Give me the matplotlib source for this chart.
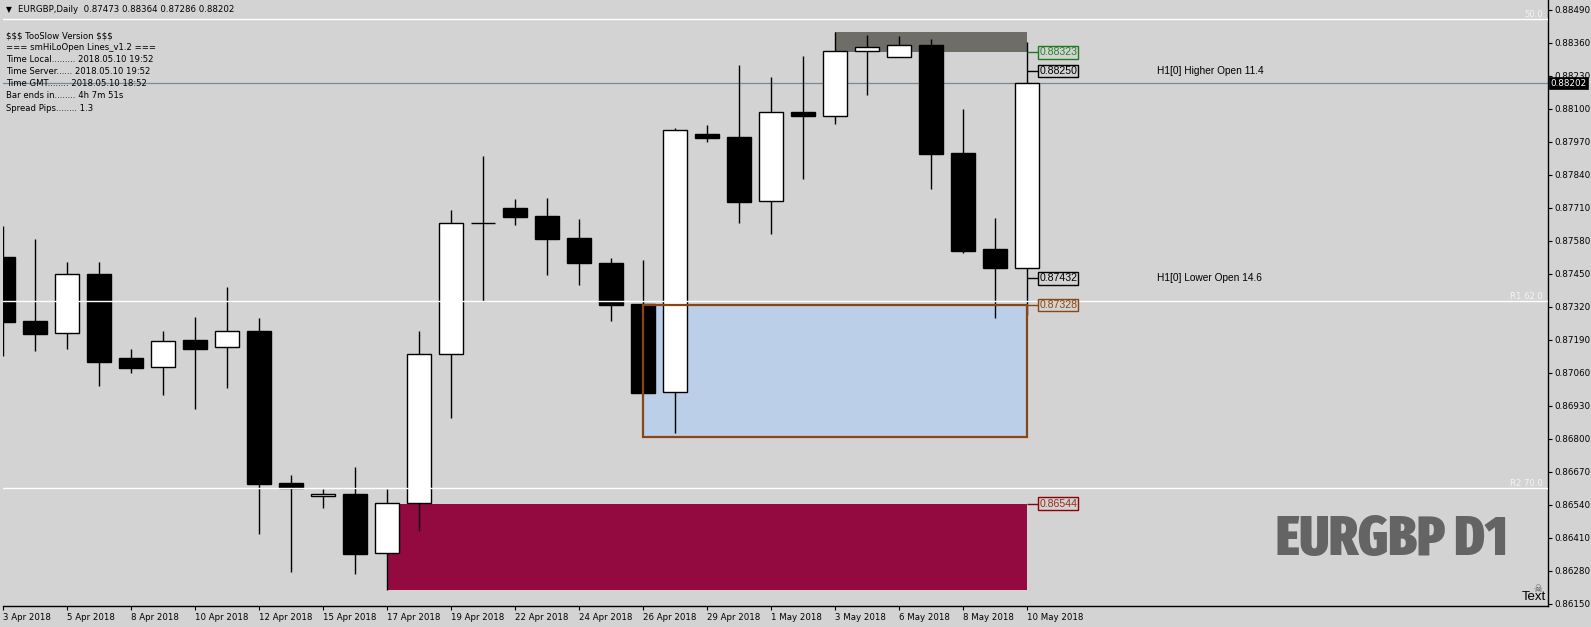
import matplotlib
matplotlib.use('Agg')
import matplotlib.pyplot as plt
from matplotlib.patches import Rectangle
from matplotlib import font_manager as fm

# ---------------- data ----------------
dates = ['3 Apr', '4 Apr', '5 Apr', '6 Apr', '8 Apr', '9 Apr', '10 Apr', '11 Apr', '12 Apr', '13 Apr',
         '15 Apr', '16 Apr', '17 Apr', '18 Apr', '19 Apr', '20 Apr', '22 Apr', '23 Apr', '24 Apr', '25 Apr',
         '26 Apr', '27 Apr', '29 Apr', '30 Apr', '1 May', '2 May', '3 May', '4 May', '6 May', '7 May',
         '8 May', '9 May', '10 May']
opens = [0.87516, 0.87264, 0.87216, 0.87449, 0.87118, 0.87082, 0.87189, 0.87160, 0.87225, 0.86626,
         0.86573, 0.86582, 0.86348, 0.86546, 0.87133, 0.87650, 0.87710, 0.87678, 0.87591, 0.87493,
         0.87331, 0.86983, 0.88001, 0.87988, 0.87736, 0.88087, 0.88071, 0.88327, 0.88304, 0.88351,
         0.87926, 0.87548, 0.87473]
highs = [0.87639, 0.87587, 0.87497, 0.87497, 0.87154, 0.87225, 0.87280, 0.87398, 0.87276, 0.86657,
         0.86602, 0.86689, 0.86602, 0.87225, 0.87702, 0.87915, 0.87745, 0.87749, 0.87666, 0.87512,
         0.87505, 0.88024, 0.88037, 0.88273, 0.88226, 0.88309, 0.88404, 0.88391, 0.88388, 0.88376,
         0.88100, 0.87671, 0.88364]
lows = [0.87127, 0.87147, 0.87155, 0.87009, 0.87059, 0.86974, 0.86917, 0.87001, 0.86426, 0.86276,
        0.86528, 0.86268, 0.86205, 0.86438, 0.86883, 0.87343, 0.87644, 0.87447, 0.87407, 0.87265,
        0.86980, 0.86821, 0.87971, 0.87652, 0.87608, 0.87825, 0.88040, 0.88156, 0.88304, 0.87786,
        0.87533, 0.87275, 0.87286]
closes = [0.87261, 0.87214, 0.87448, 0.87104, 0.87080, 0.87184, 0.87155, 0.87224, 0.86623, 0.86607,
          0.86581, 0.86347, 0.86546, 0.87133, 0.87649, 0.87649, 0.87675, 0.87589, 0.87494, 0.87328,
          0.86981, 0.88016, 0.87987, 0.87734, 0.88087, 0.88073, 0.88327, 0.88343, 0.88351, 0.87924,
          0.87541, 0.87474, 0.88202]

date_tick_bars = [0, 2, 4, 6, 8, 10, 12, 14, 16, 18, 20, 22, 24, 26, 28, 30, 32]
date_tick_labels = ['3 Apr 2018', '5 Apr 2018', '8 Apr 2018', '10 Apr 2018', '12 Apr 2018', '15 Apr 2018',
                    '17 Apr 2018', '19 Apr 2018', '22 Apr 2018', '24 Apr 2018', '26 Apr 2018', '29 Apr 2018',
                    '1 May 2018', '3 May 2018', '6 May 2018', '8 May 2018', '10 May 2018']
price_ticks = [0.88490, 0.88360, 0.88230, 0.88100, 0.87970, 0.87840, 0.87710, 0.87580, 0.87450, 0.87320,
               0.87190, 0.87060, 0.86930, 0.86800, 0.86670, 0.86540, 0.86410, 0.86280, 0.86150]
price_tick_labels = ['%.5f' % v for v in price_ticks]

# zones: (start bar, end bar, top, bottom)
supply_zone = (26, 32, 0.88404, 0.88323)
demand_zone = (20, 32, 0.87328, 0.86808)
low_zone = (12, 32, 0.86544, 0.86205)
higher_open = 0.88250
lower_open = 0.87432
fib_levels = [0.88455, 0.87343, 0.86606]
fib_labels = ['50.0', 'R1 62.0', 'R2 70.0']
last_price = 0.88202

header = 'EURGBP,Daily  0.87473 0.88364 0.87286 0.88202'
info_lines = ['$$$ TooSlow Version $$$',
              '=== smHiLoOpen Lines_v1.2 ===',
              'Time Local......... 2018.05.10 19:52',
              'Time Server...... 2018.05.10 19:52',
              'Time GMT........ 2018.05.10 18:52',
              'Bar ends in........ 4h 7m 51s',
              'Spread Pips........ 1.3']
watermark = 'EURGBP D1'

# ---------------- figure ----------------
W, H = 1591, 627
BG = '#d3d3d3'
fig = plt.figure(figsize=(W / 100, H / 100), dpi=100)
fig.patch.set_facecolor(BG)
L, R, T, B = 2.5, 1548, 0, 606
ax = fig.add_axes([L / W, (H - B) / H, (R - L) / W, (B - T) / H])
ax.set_facecolor(BG)
ax.set_xlim(-0.025, 48.27)
ax.set_ylim(0.861408, 0.885294)

def fx(px):
    return px / W

def fy(py):
    return 1 - py / H

for s in ['top', 'left']:
    ax.spines[s].set_visible(False)
for s in ['right', 'bottom']:
    ax.spines[s].set_color('black')
    ax.spines[s].set_linewidth(1.0)

small_font = ['DejaVu Sans']
label_font = ['Liberation Sans', 'DejaVu Sans']

# y axis on the right
ax.yaxis.tick_right()
ax.set_yticks(price_ticks)
ax.set_yticklabels(price_tick_labels, fontsize=6.3, family=small_font)
ax.tick_params(axis='y', direction='out', length=3, width=0.8, pad=1.5, colors='black')
# x axis
ax.set_xticks(date_tick_bars)
ax.set_xticklabels(date_tick_labels, fontsize=6.2, family=small_font)
for lbl in ax.get_xticklabels():
    lbl.set_ha('left')
ax.tick_params(axis='x', direction='out', length=3, width=0.8, pad=2, colors='black')

# zones (background)
s0, s1, st, sb = supply_zone
ax.add_patch(Rectangle((s0, sb), s1 - s0, st - sb, fc='#6e6d68', ec='none', zorder=1))
l0, l1, lt, lb = low_zone
ax.add_patch(Rectangle((l0, lb), l1 - l0, lt - lb, fc='#930a41', ec='none', zorder=1))
d0, d1, dt, db = demand_zone
ax.add_patch(Rectangle((d0, db), d1 - d0, dt - db, fc='#bbcfe8', ec='none', zorder=1))

# last price line
ax.axhline(last_price, color='#7b8a99', lw=0.9, zorder=1.5)

# candles
bw = 0.74
for i, (o, h, l, c) in enumerate(zip(opens, highs, lows, closes)):
    up = c >= o
    ax.vlines(i, l, h, color='black', lw=1.0, zorder=3)
    bottom = min(o, c)
    height = max(abs(c - o), 1e-6)
    ax.add_patch(Rectangle((i - bw / 2, bottom), bw, height, fc='white' if up else 'black',
                           ec='black', lw=1.0, zorder=3.5))

# demand zone outline (foreground)
ax.add_patch(Rectangle((d0, db), d1 - d0, dt - db, fc='none', ec='#8b4513', lw=1.6, zorder=4))

# fib lines
for lev, name in zip(fib_levels, fib_labels):
    ax.axhline(lev, color='white', lw=1.0, zorder=4)
    ax.text(0.997, lev, name, transform=ax.get_yaxis_transform(), ha='right', va='bottom',
            fontsize=6.1, color='#f4f4f4', family=small_font, zorder=5)

# right-side level labels
lx = 32.34
levels = [(supply_zone[3], '#1e7a1e', '#2b7d2b'),
          (higher_open, 'black', 'black'),
          (lower_open, 'black', 'black'),
          (demand_zone[2], '#8b4513', '#8b4513'),
          (low_zone[2], '#8b0000', '#9a2a1a')]
for lev, ec, tc in levels:
    ax.hlines(lev, 32, lx, color=ec, lw=1.0, zorder=4)
    ax.text(lx + 0.03, lev, '%.5f' % lev, ha='left', va='center', fontsize=7.6, color=tc,
            family=label_font, zorder=6,
            bbox=dict(boxstyle='square,pad=0.12', fc=BG, ec=ec, lw=1.0))

ax.text(36.05, higher_open, 'H1[0] Higher Open 11.4', ha='left', va='center', fontsize=7.3,
        family=label_font, color='black', zorder=6)
ax.text(36.05, lower_open, 'H1[0] Lower Open 14.6', ha='left', va='center', fontsize=7.3,
        family=label_font, color='black', zorder=6)

# current price box on the axis
ax.text(1.0015, last_price, '%.5f' % last_price, transform=ax.get_yaxis_transform(), ha='left',
        va='center', fontsize=6.3, color='white', family=small_font, zorder=10, clip_on=False,
        bbox=dict(boxstyle='square,pad=0.2', fc='black', ec='black', lw=0.5))

# header + info block
fig.text(fx(6), fy(10), '\u25bc', fontsize=5.5, va='center', ha='left', color='black', family=small_font)
fig.text(fx(17.5), fy(10), header, fontsize=6.2, va='center', ha='left', color='black',
         family=small_font, parse_math=False)
for k, line in enumerate(info_lines):
    fig.text(fx(6.5), fy(35.5 + 12.1 * k), line, fontsize=6.1, va='center', ha='left',
             color='black', family=small_font, parse_math=False)

# big watermark text: pick the narrowest bold font available
def pick_condensed():
    best, best_score = None, -1
    for f in fm.fontManager.ttflist:
        key = (f.fname + ' ' + f.name + ' ' + str(f.stretch)).lower().replace(' ', '').replace('-', '')
        score = 0
        if 'extracondensed' in key or 'ultracondensed' in key or 'compressed' in key:
            score = 30
        elif 'semicondensed' in key:
            score = 10
        elif 'condensed' in key or 'narrow' in key:
            score = 20
        if score == 0:
            continue
        fn = f.fname.lower()
        if 'italic' in fn or 'oblique' in fn:
            continue
        if 'extrabold' in fn or 'black' in fn or 'heavy' in fn:
            score += 6
        elif 'semibold' in fn:
            score += 3
        elif 'bold' in fn:
            score += 5
        if score > best_score:
            best, best_score = f.fname, score
    return best

cfont = pick_condensed()
if cfont:
    wm_prop = fm.FontProperties(fname=cfont)
else:
    wm_prop = fm.FontProperties(family='DejaVu Sans', weight='bold')
wm = fig.text(fx(1276), fy(555.5), watermark, fontproperties=wm_prop, color='#646464',
              ha='left', va='baseline')
wm.set_fontsize(40)
fig.canvas.draw()
wbox = wm.get_window_extent()
size = 40 * 232.0 / wbox.width
size = min(size, 48.0)
wm.set_fontsize(size)

# "Text" object with icon
fig.text(fx(1537.5), fy(589), '\u2620', fontsize=7, color='#555555', ha='center', va='center',
         family=small_font)
fig.text(fx(1522), fy(597), 'Text', fontsize=9.5, color='black', ha='left', va='center',
         family=label_font)

fig.savefig('out.png', dpi=100, facecolor=BG)
